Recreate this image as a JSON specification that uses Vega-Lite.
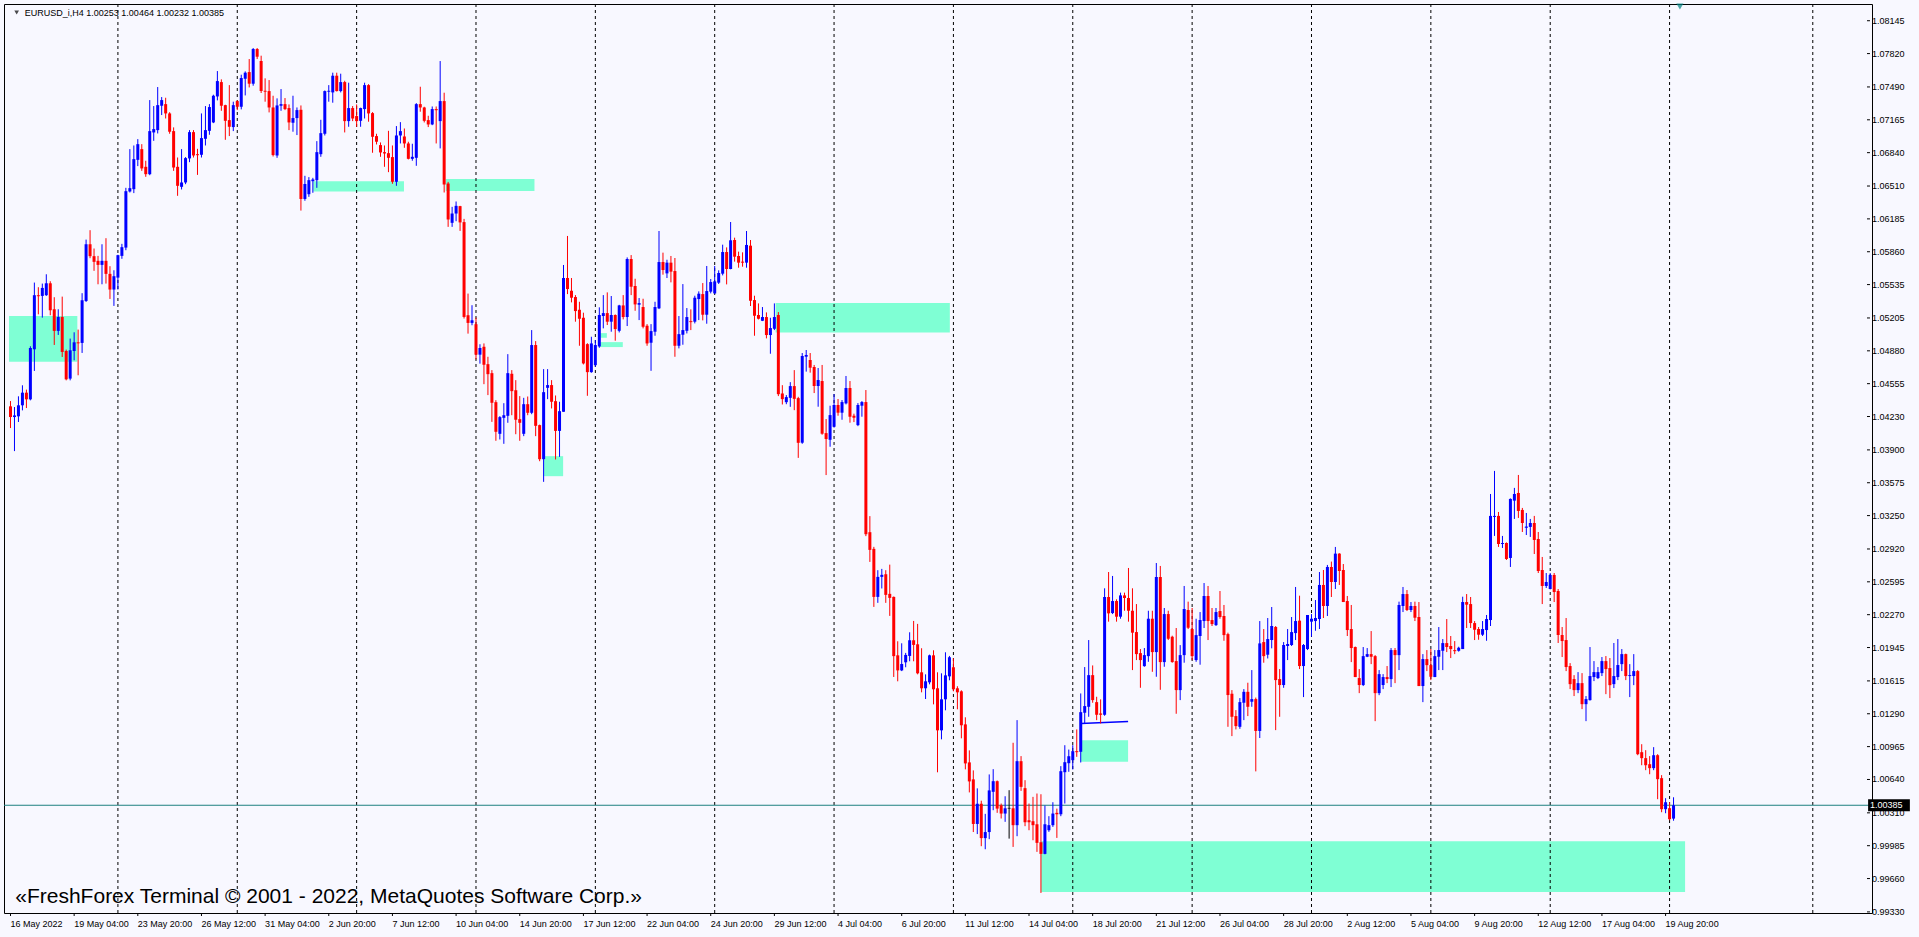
{
"$schema":"https://vega.github.io/schema/vega-lite/v6.json",
"width":1868,"height":909,
"autosize":{"type":"none"},
"padding":{"left":4,"top":4,"right":47,"bottom":24},
"background":"#F8F8FF",
"config":{"view":{"stroke":"#000000","strokeWidth":1,"fill":"#F8F8FF"},"font":"Liberation Sans"},
"datasets":{
"zones":[{"i":-0.375,"i2":16.8,"top":1.05224,"bot":1.04772},{"i":76.1,"i2":98.9,"top":1.06558,"bot":1.06455},{"i":109.4,"i2":131.7,"top":1.0658,"bot":1.06461},{"i":134.0,"i2":138.9,"top":1.03838,"bot":1.0364},{"i":148.2,"i2":149.9,"top":1.05055,"bot":1.05009},{"i":148.2,"i2":153.9,"top":1.04966,"bot":1.04917},{"i":192.3,"i2":236.1,"top":1.05353,"bot":1.0506},{"i":269.05,"i2":280.9,"top":1.01029,"bot":1.00815},{"i":259.05,"i2":420.9,"top":1.0003,"bot":0.99528}],
"seps":[{"i":27},{"i":57},{"i":87},{"i":117},{"i":147},{"i":177},{"i":207},{"i":237},{"i":267},{"i":297},{"i":327},{"i":357},{"i":387},{"i":417},{"i":453}],
"xlabels":[{"i":0,"t":"16 May 2022"},{"i":16,"t":"19 May 04:00"},{"i":32,"t":"23 May 20:00"},{"i":48,"t":"26 May 12:00"},{"i":64,"t":"31 May 04:00"},{"i":80,"t":"2 Jun 20:00"},{"i":96,"t":"7 Jun 12:00"},{"i":112,"t":"10 Jun 04:00"},{"i":128,"t":"14 Jun 20:00"},{"i":144,"t":"17 Jun 12:00"},{"i":160,"t":"22 Jun 04:00"},{"i":176,"t":"24 Jun 20:00"},{"i":192,"t":"29 Jun 12:00"},{"i":208,"t":"4 Jul 04:00"},{"i":224,"t":"6 Jul 20:00"},{"i":240,"t":"11 Jul 12:00"},{"i":256,"t":"14 Jul 04:00"},{"i":272,"t":"18 Jul 20:00"},{"i":288,"t":"21 Jul 12:00"},{"i":304,"t":"26 Jul 04:00"},{"i":320,"t":"28 Jul 20:00"},{"i":336,"t":"2 Aug 12:00"},{"i":352,"t":"5 Aug 04:00"},{"i":368,"t":"9 Aug 20:00"},{"i":384,"t":"12 Aug 12:00"},{"i":400,"t":"17 Aug 04:00"},{"i":416,"t":"19 Aug 20:00"}],
"ylabels":[{"p":1.08145,"t":"1.08145"},{"p":1.0782,"t":"1.07820"},{"p":1.0749,"t":"1.07490"},{"p":1.07165,"t":"1.07165"},{"p":1.0684,"t":"1.06840"},{"p":1.0651,"t":"1.06510"},{"p":1.06185,"t":"1.06185"},{"p":1.0586,"t":"1.05860"},{"p":1.05535,"t":"1.05535"},{"p":1.05205,"t":"1.05205"},{"p":1.0488,"t":"1.04880"},{"p":1.04555,"t":"1.04555"},{"p":1.0423,"t":"1.04230"},{"p":1.039,"t":"1.03900"},{"p":1.03575,"t":"1.03575"},{"p":1.0325,"t":"1.03250"},{"p":1.0292,"t":"1.02920"},{"p":1.02595,"t":"1.02595"},{"p":1.0227,"t":"1.02270"},{"p":1.01945,"t":"1.01945"},{"p":1.01615,"t":"1.01615"},{"p":1.0129,"t":"1.01290"},{"p":1.00965,"t":"1.00965"},{"p":1.0064,"t":"1.00640"},{"p":1.0031,"t":"1.00310"},{"p":0.99985,"t":"0.99985"},{"p":0.9966,"t":"0.99660"},{"p":0.9933,"t":"0.99330"}],
"trend":[{"i":269.05,"i2":280.9,"p":1.01194,"p2":1.01214}],
"price":[{"p":1.00385,"label":"1.00385"}],
"candles":[
{"i":0,"o":1.04331,"h":1.04383,"l":1.04116,"c":1.04225},
{"i":1,"o":1.04225,"h":1.04324,"l":1.03888,"c":1.04241},
{"i":2,"o":1.04232,"h":1.0443,"l":1.04176,"c":1.04341},
{"i":3,"o":1.04341,"h":1.04539,"l":1.04291,"c":1.04466},
{"i":4,"o":1.04466,"h":1.04496,"l":1.04314,"c":1.044},
{"i":5,"o":1.044,"h":1.04925,"l":1.0439,"c":1.04908},
{"i":6,"o":1.04895,"h":1.05555,"l":1.04681,"c":1.0543},
{"i":7,"o":1.0543,"h":1.05509,"l":1.05241,"c":1.0542},
{"i":8,"o":1.05423,"h":1.05545,"l":1.05208,"c":1.05502},
{"i":9,"o":1.0543,"h":1.05637,"l":1.05423,"c":1.05548},
{"i":10,"o":1.05548,"h":1.05568,"l":1.05232,"c":1.05281},
{"i":11,"o":1.05291,"h":1.0541,"l":1.04938,"c":1.05077},
{"i":12,"o":1.05077,"h":1.05291,"l":1.05037,"c":1.05215},
{"i":13,"o":1.05215,"h":1.05416,"l":1.04819,"c":1.04869},
{"i":14,"o":1.04878,"h":1.04892,"l":1.04588,"c":1.04598},
{"i":15,"o":1.04605,"h":1.05001,"l":1.04588,"c":1.04885},
{"i":16,"o":1.04878,"h":1.05063,"l":1.04786,"c":1.04964},
{"i":17,"o":1.04964,"h":1.0509,"l":1.04638,"c":1.04954},
{"i":18,"o":1.04958,"h":1.0545,"l":1.04859,"c":1.0538},
{"i":19,"o":1.05373,"h":1.0598,"l":1.05363,"c":1.05934},
{"i":20,"o":1.05934,"h":1.06073,"l":1.05796,"c":1.05816},
{"i":21,"o":1.05816,"h":1.05892,"l":1.05671,"c":1.0576},
{"i":22,"o":1.0577,"h":1.05819,"l":1.05538,"c":1.0573},
{"i":23,"o":1.0573,"h":1.05934,"l":1.05538,"c":1.0577},
{"i":24,"o":1.0577,"h":1.05994,"l":1.05545,"c":1.05641},
{"i":25,"o":1.05641,"h":1.05717,"l":1.05393,"c":1.05486},
{"i":26,"o":1.05486,"h":1.05677,"l":1.05324,"c":1.05618},
{"i":27,"o":1.05604,"h":1.0583,"l":1.05486,"c":1.05826},
{"i":28,"o":1.05819,"h":1.05938,"l":1.0579,"c":1.05905},
{"i":29,"o":1.05901,"h":1.06492,"l":1.05875,"c":1.06459},
{"i":30,"o":1.06456,"h":1.06875,"l":1.06446,"c":1.06489},
{"i":31,"o":1.06479,"h":1.06911,"l":1.0644,"c":1.06776},
{"i":32,"o":1.06769,"h":1.06974,"l":1.06707,"c":1.06924},
{"i":33,"o":1.06875,"h":1.06924,"l":1.0666,"c":1.06684},
{"i":34,"o":1.067,"h":1.0676,"l":1.06601,"c":1.06627},
{"i":35,"o":1.06627,"h":1.0736,"l":1.06617,"c":1.07053},
{"i":36,"o":1.0704,"h":1.07301,"l":1.06957,"c":1.07073},
{"i":37,"o":1.07063,"h":1.07489,"l":1.0703,"c":1.0731},
{"i":38,"o":1.07304,"h":1.0739,"l":1.07212,"c":1.0736},
{"i":39,"o":1.0732,"h":1.07383,"l":1.07178,"c":1.07228},
{"i":40,"o":1.07228,"h":1.0724,"l":1.07027,"c":1.07047},
{"i":41,"o":1.07053,"h":1.0709,"l":1.0666,"c":1.06693},
{"i":42,"o":1.067,"h":1.06792,"l":1.06413,"c":1.06512},
{"i":43,"o":1.06502,"h":1.06875,"l":1.06476,"c":1.06545},
{"i":44,"o":1.06545,"h":1.06796,"l":1.06528,"c":1.06786},
{"i":45,"o":1.06783,"h":1.07063,"l":1.06746,"c":1.07043},
{"i":46,"o":1.07043,"h":1.07063,"l":1.06792,"c":1.06812},
{"i":47,"o":1.06825,"h":1.06878,"l":1.0662,"c":1.06819},
{"i":48,"o":1.06819,"h":1.07228,"l":1.06792,"c":1.06984},
{"i":49,"o":1.06977,"h":1.07301,"l":1.06911,"c":1.07063},
{"i":50,"o":1.07056,"h":1.0732,"l":1.07017,"c":1.07291},
{"i":51,"o":1.07139,"h":1.07413,"l":1.07132,"c":1.07403},
{"i":52,"o":1.07396,"h":1.07647,"l":1.07357,"c":1.07548},
{"i":53,"o":1.07538,"h":1.07565,"l":1.07254,"c":1.07304},
{"i":54,"o":1.0731,"h":1.07314,"l":1.06967,"c":1.07155},
{"i":55,"o":1.07162,"h":1.07508,"l":1.07004,"c":1.07096},
{"i":56,"o":1.07093,"h":1.07344,"l":1.07053,"c":1.0731},
{"i":57,"o":1.0735,"h":1.07357,"l":1.07261,"c":1.07294},
{"i":58,"o":1.07294,"h":1.07611,"l":1.07268,"c":1.07578},
{"i":59,"o":1.07571,"h":1.07644,"l":1.07406,"c":1.07631},
{"i":60,"o":1.07637,"h":1.07766,"l":1.07485,"c":1.07522},
{"i":61,"o":1.07522,"h":1.07875,"l":1.07502,"c":1.07865},
{"i":62,"o":1.07865,"h":1.07875,"l":1.07766,"c":1.07789},
{"i":63,"o":1.07746,"h":1.07799,"l":1.0743,"c":1.07449},
{"i":64,"o":1.07452,"h":1.07575,"l":1.07344,"c":1.07443},
{"i":65,"o":1.07449,"h":1.07558,"l":1.07238,"c":1.07287},
{"i":66,"o":1.07287,"h":1.07403,"l":1.06802,"c":1.06816},
{"i":67,"o":1.06812,"h":1.07377,"l":1.06789,"c":1.07307},
{"i":68,"o":1.07304,"h":1.07469,"l":1.07254,"c":1.0732},
{"i":69,"o":1.0732,"h":1.0738,"l":1.07261,"c":1.07271},
{"i":70,"o":1.07281,"h":1.07317,"l":1.07063,"c":1.07139},
{"i":71,"o":1.07136,"h":1.07403,"l":1.07047,"c":1.07182},
{"i":72,"o":1.07182,"h":1.07287,"l":1.07014,"c":1.07261},
{"i":73,"o":1.07264,"h":1.07307,"l":1.06267,"c":1.06382},
{"i":74,"o":1.06382,"h":1.06611,"l":1.06364,"c":1.0653},
{"i":75,"o":1.06429,"h":1.06598,"l":1.06403,"c":1.06568},
{"i":76,"o":1.06558,"h":1.06591,"l":1.06443,"c":1.06575},
{"i":77,"o":1.06568,"h":1.06954,"l":1.06492,"c":1.06845},
{"i":78,"o":1.06825,"h":1.07165,"l":1.06799,"c":1.07033},
{"i":79,"o":1.07027,"h":1.07455,"l":1.0701,"c":1.07449},
{"i":80,"o":1.07443,"h":1.07508,"l":1.07344,"c":1.07452},
{"i":81,"o":1.07436,"h":1.07631,"l":1.07334,"c":1.07601},
{"i":82,"o":1.07601,"h":1.07631,"l":1.07445,"c":1.07449},
{"i":83,"o":1.07449,"h":1.07621,"l":1.07436,"c":1.07538},
{"i":84,"o":1.07538,"h":1.07551,"l":1.0704,"c":1.07152},
{"i":85,"o":1.07152,"h":1.07532,"l":1.07096,"c":1.07281},
{"i":86,"o":1.07281,"h":1.07301,"l":1.07152,"c":1.07178},
{"i":87,"o":1.07202,"h":1.07317,"l":1.07096,"c":1.07152},
{"i":88,"o":1.07155,"h":1.07285,"l":1.07096,"c":1.07281},
{"i":89,"o":1.07271,"h":1.07532,"l":1.07178,"c":1.07508},
{"i":90,"o":1.07508,"h":1.07518,"l":1.07146,"c":1.07228},
{"i":91,"o":1.07231,"h":1.07241,"l":1.06839,"c":1.06997},
{"i":92,"o":1.07004,"h":1.07027,"l":1.06921,"c":1.06948},
{"i":93,"o":1.06915,"h":1.06941,"l":1.06799,"c":1.06842},
{"i":94,"o":1.06845,"h":1.06911,"l":1.067,"c":1.06832},
{"i":95,"o":1.06835,"h":1.07056,"l":1.06647,"c":1.06789},
{"i":96,"o":1.06796,"h":1.06911,"l":1.06532,"c":1.06552},
{"i":97,"o":1.06552,"h":1.07103,"l":1.06512,"c":1.0701},
{"i":98,"o":1.0701,"h":1.07142,"l":1.06931,"c":1.07053},
{"i":99,"o":1.07,"h":1.07079,"l":1.06888,"c":1.06931},
{"i":100,"o":1.06931,"h":1.06948,"l":1.06773,"c":1.06779},
{"i":101,"o":1.06779,"h":1.06928,"l":1.0676,"c":1.06799},
{"i":102,"o":1.06789,"h":1.0733,"l":1.0671,"c":1.0732},
{"i":103,"o":1.0732,"h":1.07492,"l":1.07245,"c":1.07287},
{"i":104,"o":1.07287,"h":1.07294,"l":1.07139,"c":1.07155},
{"i":105,"o":1.07162,"h":1.07205,"l":1.07093,"c":1.07119},
{"i":106,"o":1.07119,"h":1.07297,"l":1.07112,"c":1.07271},
{"i":107,"o":1.07271,"h":1.07297,"l":1.06931,"c":1.07264},
{"i":108,"o":1.07152,"h":1.07746,"l":1.06882,"c":1.0735},
{"i":109,"o":1.0735,"h":1.07433,"l":1.06446,"c":1.06525},
{"i":110,"o":1.06535,"h":1.06551,"l":1.06106,"c":1.06179},
{"i":111,"o":1.06146,"h":1.06304,"l":1.06106,"c":1.06238},
{"i":112,"o":1.06238,"h":1.06357,"l":1.06162,"c":1.06314},
{"i":113,"o":1.06311,"h":1.06314,"l":1.06066,"c":1.0615},
{"i":114,"o":1.06153,"h":1.06185,"l":1.05199,"c":1.05215},
{"i":115,"o":1.05232,"h":1.05446,"l":1.0505,"c":1.05156},
{"i":116,"o":1.05156,"h":1.05331,"l":1.05133,"c":1.05182},
{"i":117,"o":1.05143,"h":1.05208,"l":1.04796,"c":1.04842},
{"i":118,"o":1.04842,"h":1.04945,"l":1.04753,"c":1.04908},
{"i":119,"o":1.0492,"h":1.04953,"l":1.0455,"c":1.04742},
{"i":120,"o":1.04748,"h":1.04821,"l":1.04442,"c":1.04649},
{"i":121,"o":1.04659,"h":1.04689,"l":1.04177,"c":1.04366},
{"i":122,"o":1.04372,"h":1.04392,"l":1.0399,"c":1.04079},
{"i":123,"o":1.04059,"h":1.04234,"l":1.04003,"c":1.04224},
{"i":124,"o":1.04217,"h":1.04362,"l":1.0396,"c":1.04243},
{"i":125,"o":1.04237,"h":1.04847,"l":1.04168,"c":1.04659},
{"i":126,"o":1.04653,"h":1.04689,"l":1.04243,"c":1.04481},
{"i":127,"o":1.04491,"h":1.0459,"l":1.04055,"c":1.04197},
{"i":128,"o":1.04204,"h":1.04432,"l":1.0399,"c":1.04168},
{"i":129,"o":1.04059,"h":1.04415,"l":1.04036,"c":1.04352},
{"i":130,"o":1.04352,"h":1.04428,"l":1.04243,"c":1.04267},
{"i":131,"o":1.04267,"h":1.05085,"l":1.04253,"c":1.04937},
{"i":132,"o":1.04937,"h":1.04976,"l":1.04036,"c":1.04138},
{"i":133,"o":1.04145,"h":1.0415,"l":1.03788,"c":1.03808},
{"i":134,"o":1.03808,"h":1.04699,"l":1.03584,"c":1.04471},
{"i":135,"o":1.04514,"h":1.04699,"l":1.04402,"c":1.04541},
{"i":136,"o":1.04541,"h":1.0459,"l":1.0431,"c":1.04376},
{"i":137,"o":1.04382,"h":1.04438,"l":1.03805,"c":1.04088},
{"i":138,"o":1.04088,"h":1.04376,"l":1.03831,"c":1.04283},
{"i":139,"o":1.04277,"h":1.05729,"l":1.04277,"c":1.056},
{"i":140,"o":1.056,"h":1.06016,"l":1.05441,"c":1.05491},
{"i":141,"o":1.05474,"h":1.056,"l":1.05359,"c":1.05405},
{"i":142,"o":1.05412,"h":1.05431,"l":1.05168,"c":1.05273},
{"i":143,"o":1.05286,"h":1.05365,"l":1.0493,"c":1.05197},
{"i":144,"o":1.05207,"h":1.05257,"l":1.04745,"c":1.04755},
{"i":145,"o":1.04946,"h":1.04955,"l":1.04435,"c":1.04669},
{"i":146,"o":1.04669,"h":1.05019,"l":1.04663,"c":1.04953},
{"i":147,"o":1.04738,"h":1.04986,"l":1.04722,"c":1.04937},
{"i":148,"o":1.04923,"h":1.0531,"l":1.0491,"c":1.05234},
{"i":149,"o":1.05224,"h":1.05431,"l":1.05102,"c":1.05253},
{"i":150,"o":1.05253,"h":1.05458,"l":1.05135,"c":1.05168},
{"i":151,"o":1.05168,"h":1.05422,"l":1.05069,"c":1.05234},
{"i":152,"o":1.05234,"h":1.0524,"l":1.0498,"c":1.05095},
{"i":153,"o":1.05078,"h":1.05335,"l":1.05062,"c":1.05329},
{"i":154,"o":1.05329,"h":1.05431,"l":1.05191,"c":1.05214},
{"i":155,"o":1.05214,"h":1.05804,"l":1.05125,"c":1.05788},
{"i":156,"o":1.05788,"h":1.05827,"l":1.05431,"c":1.05514},
{"i":157,"o":1.05521,"h":1.05593,"l":1.05276,"c":1.05339},
{"i":158,"o":1.05336,"h":1.05402,"l":1.05184,"c":1.05352},
{"i":159,"o":1.05313,"h":1.05395,"l":1.05102,"c":1.05118},
{"i":160,"o":1.05128,"h":1.05144,"l":1.0493,"c":1.04953},
{"i":161,"o":1.0496,"h":1.05144,"l":1.04682,"c":1.05075},
{"i":162,"o":1.05069,"h":1.05365,"l":1.05029,"c":1.05313},
{"i":163,"o":1.053,"h":1.06065,"l":1.05293,"c":1.05758},
{"i":164,"o":1.05758,"h":1.05851,"l":1.05633,"c":1.05679},
{"i":165,"o":1.05646,"h":1.05781,"l":1.056,"c":1.05752},
{"i":166,"o":1.05752,"h":1.05818,"l":1.05557,"c":1.05663},
{"i":167,"o":1.05669,"h":1.05798,"l":1.04821,"c":1.0493},
{"i":168,"o":1.0493,"h":1.05224,"l":1.04904,"c":1.05045},
{"i":169,"o":1.05039,"h":1.0554,"l":1.0494,"c":1.05085},
{"i":170,"o":1.05078,"h":1.05303,"l":1.05052,"c":1.05214},
{"i":171,"o":1.05174,"h":1.0529,"l":1.05085,"c":1.05168},
{"i":172,"o":1.05168,"h":1.05425,"l":1.05151,"c":1.05405},
{"i":173,"o":1.05392,"h":1.05468,"l":1.05184,"c":1.05445},
{"i":174,"o":1.05441,"h":1.0555,"l":1.05181,"c":1.05237},
{"i":175,"o":1.05237,"h":1.05719,"l":1.05148,"c":1.05471},
{"i":176,"o":1.05465,"h":1.0559,"l":1.05448,"c":1.0556},
{"i":177,"o":1.05448,"h":1.05719,"l":1.05441,"c":1.05567},
{"i":178,"o":1.05554,"h":1.05676,"l":1.05541,"c":1.0565},
{"i":179,"o":1.05643,"h":1.0593,"l":1.05626,"c":1.05857},
{"i":180,"o":1.05857,"h":1.05903,"l":1.05537,"c":1.05689},
{"i":181,"o":1.05689,"h":1.06154,"l":1.05686,"c":1.05973},
{"i":182,"o":1.05976,"h":1.05999,"l":1.05762,"c":1.05811},
{"i":183,"o":1.05818,"h":1.05861,"l":1.05702,"c":1.05752},
{"i":184,"o":1.05762,"h":1.05854,"l":1.05712,"c":1.05752},
{"i":185,"o":1.05752,"h":1.06065,"l":1.05702,"c":1.05927},
{"i":186,"o":1.0592,"h":1.05976,"l":1.05323,"c":1.05375},
{"i":187,"o":1.05382,"h":1.05425,"l":1.05029,"c":1.05227},
{"i":188,"o":1.05234,"h":1.05349,"l":1.0519,"c":1.05197},
{"i":189,"o":1.05177,"h":1.05313,"l":1.05174,"c":1.05214},
{"i":190,"o":1.05214,"h":1.0526,"l":1.05003,"c":1.05036},
{"i":191,"o":1.05036,"h":1.05207,"l":1.04851,"c":1.05105},
{"i":192,"o":1.05098,"h":1.05349,"l":1.05085,"c":1.05214},
{"i":193,"o":1.05234,"h":1.05263,"l":1.04432,"c":1.04451},
{"i":194,"o":1.04458,"h":1.0454,"l":1.04349,"c":1.04402},
{"i":195,"o":1.04372,"h":1.04442,"l":1.04352,"c":1.04422},
{"i":196,"o":1.04415,"h":1.0457,"l":1.04326,"c":1.04531},
{"i":197,"o":1.04531,"h":1.04689,"l":1.04293,"c":1.04405},
{"i":198,"o":1.04412,"h":1.04425,"l":1.03821,"c":1.0397},
{"i":199,"o":1.03971,"h":1.04858,"l":1.0396,"c":1.04829},
{"i":200,"o":1.04822,"h":1.04888,"l":1.04674,"c":1.04839},
{"i":201,"o":1.04789,"h":1.04858,"l":1.04664,"c":1.04713},
{"i":202,"o":1.0472,"h":1.0474,"l":1.04462,"c":1.04532},
{"i":203,"o":1.04532,"h":1.0471,"l":1.04327,"c":1.04591},
{"i":204,"o":1.04581,"h":1.0474,"l":1.0405,"c":1.0406},
{"i":205,"o":1.04066,"h":1.04205,"l":1.03651,"c":1.04007},
{"i":206,"o":1.04,"h":1.04337,"l":1.03931,"c":1.04244},
{"i":207,"o":1.04129,"h":1.04452,"l":1.0412,"c":1.04344},
{"i":208,"o":1.04344,"h":1.04403,"l":1.04238,"c":1.04268},
{"i":209,"o":1.04268,"h":1.04393,"l":1.04198,"c":1.04373},
{"i":210,"o":1.0436,"h":1.04631,"l":1.0435,"c":1.04512},
{"i":211,"o":1.04512,"h":1.04581,"l":1.04169,"c":1.04228},
{"i":212,"o":1.04238,"h":1.04258,"l":1.04175,"c":1.04218},
{"i":213,"o":1.04145,"h":1.04363,"l":1.04135,"c":1.04344},
{"i":214,"o":1.04337,"h":1.04383,"l":1.04228,"c":1.04373},
{"i":215,"o":1.04373,"h":1.04492,"l":1.03047,"c":1.03066},
{"i":216,"o":1.03086,"h":1.03245,"l":1.02792,"c":1.02911},
{"i":217,"o":1.02921,"h":1.02941,"l":1.02347,"c":1.02446},
{"i":218,"o":1.02446,"h":1.0271,"l":1.02387,"c":1.02644},
{"i":219,"o":1.02644,"h":1.02723,"l":1.02529,"c":1.02664},
{"i":220,"o":1.0267,"h":1.0271,"l":1.02387,"c":1.02466},
{"i":221,"o":1.02476,"h":1.02765,"l":1.02258,"c":1.02436},
{"i":222,"o":1.02446,"h":1.0245,"l":1.01654,"c":1.0186},
{"i":223,"o":1.01868,"h":1.02007,"l":1.01611,"c":1.01719},
{"i":224,"o":1.01719,"h":1.01987,"l":1.01712,"c":1.01782},
{"i":225,"o":1.01799,"h":1.01892,"l":1.0175,"c":1.01872},
{"i":226,"o":1.01862,"h":1.02096,"l":1.01809,"c":1.02017},
{"i":227,"o":1.02017,"h":1.02208,"l":1.01809,"c":1.01971},
{"i":228,"o":1.01977,"h":1.02179,"l":1.0168,"c":1.0169},
{"i":229,"o":1.017,"h":1.01938,"l":1.01502,"c":1.01542},
{"i":230,"o":1.01542,"h":1.0168,"l":1.01436,"c":1.01611},
{"i":231,"o":1.01601,"h":1.01875,"l":1.01581,"c":1.01868},
{"i":232,"o":1.01868,"h":1.01918,"l":1.01383,"c":1.01532},
{"i":233,"o":1.01542,"h":1.017,"l":1.00711,"c":1.01126},
{"i":234,"o":1.01126,"h":1.0169,"l":1.01037,"c":1.01433},
{"i":235,"o":1.01433,"h":1.01898,"l":1.01324,"c":1.0167},
{"i":236,"o":1.0166,"h":1.01862,"l":1.01621,"c":1.01849},
{"i":237,"o":1.0175,"h":1.01839,"l":1.01512,"c":1.01532},
{"i":238,"o":1.01542,"h":1.01562,"l":1.01334,"c":1.01502},
{"i":239,"o":1.01512,"h":1.01522,"l":1.01047,"c":1.01176},
{"i":240,"o":1.01185,"h":1.01255,"l":1.0074,"c":1.00799},
{"i":241,"o":1.00809,"h":1.00928,"l":1.00512,"c":1.00621},
{"i":242,"o":1.00641,"h":1.0073,"l":1.0012,"c":1.002},
{"i":243,"o":1.002,"h":1.00552,"l":1.001,"c":1.004},
{"i":244,"o":1.004,"h":1.0043,"l":0.9998,"c":1.0006},
{"i":245,"o":1.0006,"h":1.003,"l":0.9995,"c":1.0012},
{"i":246,"o":1.0012,"h":1.0069,"l":1.0005,"c":1.00532},
{"i":247,"o":1.00518,"h":1.00742,"l":1.00336,"c":1.00623},
{"i":248,"o":1.00623,"h":1.0063,"l":1.0031,"c":1.00352},
{"i":249,"o":1.00385,"h":1.00402,"l":1.00254,"c":1.00303},
{"i":250,"o":1.00303,"h":1.00474,"l":1.00221,"c":1.00355},
{"i":251,"o":1.00355,"h":1.00534,"l":1.00055,"c":1.00355},
{"i":252,"o":1.00355,"h":1.01003,"l":0.99973,"c":1.00188},
{"i":253,"o":1.00188,"h":1.01227,"l":1.00079,"c":1.00821},
{"i":254,"o":1.00821,"h":1.00871,"l":1.00527,"c":1.00567},
{"i":255,"o":1.00554,"h":1.00633,"l":1.00178,"c":1.00217},
{"i":256,"o":1.00237,"h":1.00402,"l":1.00138,"c":1.00217},
{"i":257,"o":1.00227,"h":1.00468,"l":1.00039,"c":1.00188},
{"i":258,"o":1.00197,"h":1.00501,"l":0.99924,"c":1.00013},
{"i":259,"o":1.00019,"h":1.00494,"l":0.99518,"c":0.99904},
{"i":260,"o":0.99904,"h":1.00382,"l":0.999,"c":1.00197},
{"i":261,"o":1.00138,"h":1.00277,"l":1.00122,"c":1.00188},
{"i":262,"o":1.00188,"h":1.00415,"l":1.00171,"c":1.00303},
{"i":263,"o":1.0031,"h":1.00352,"l":1.00062,"c":1.00296},
{"i":264,"o":1.00296,"h":1.00772,"l":1.00277,"c":1.00722},
{"i":265,"o":1.00712,"h":1.00979,"l":1.00402,"c":1.00811},
{"i":266,"o":1.00801,"h":1.00936,"l":1.00716,"c":1.0087},
{"i":267,"o":1.00831,"h":1.00979,"l":1.00739,"c":1.0092},
{"i":268,"o":1.0092,"h":1.01135,"l":1.00864,"c":1.00914},
{"i":269,"o":1.00914,"h":1.01491,"l":1.00808,"c":1.01306},
{"i":270,"o":1.013,"h":1.01752,"l":1.01194,"c":1.01366},
{"i":271,"o":1.01359,"h":1.02019,"l":1.0126,"c":1.01672},
{"i":272,"o":1.01672,"h":1.01768,"l":1.01399,"c":1.01425},
{"i":273,"o":1.01405,"h":1.01458,"l":1.01227,"c":1.0128},
{"i":274,"o":1.01293,"h":1.01432,"l":1.01194,"c":1.0128},
{"i":275,"o":1.0128,"h":1.02531,"l":1.0127,"c":1.02445},
{"i":276,"o":1.02445,"h":1.02692,"l":1.02201,"c":1.02283},
{"i":277,"o":1.02286,"h":1.02653,"l":1.02276,"c":1.02405},
{"i":278,"o":1.02405,"h":1.02422,"l":1.02201,"c":1.0225},
{"i":279,"o":1.0225,"h":1.02488,"l":1.0223,"c":1.02461},
{"i":280,"o":1.02461,"h":1.02488,"l":1.02309,"c":1.02435},
{"i":281,"o":1.02435,"h":1.02732,"l":1.02201,"c":1.02309},
{"i":282,"o":1.02309,"h":1.02531,"l":1.01722,"c":1.02092},
{"i":283,"o":1.02098,"h":1.02375,"l":1.01821,"c":1.0188},
{"i":284,"o":1.0189,"h":1.0193,"l":1.01547,"c":1.01821},
{"i":285,"o":1.01761,"h":1.0194,"l":1.01755,"c":1.0187},
{"i":286,"o":1.0186,"h":1.02309,"l":1.01804,"c":1.0223},
{"i":287,"o":1.0223,"h":1.02309,"l":1.01705,"c":1.019},
{"i":288,"o":1.019,"h":1.02781,"l":1.01656,"c":1.02643},
{"i":289,"o":1.02643,"h":1.02752,"l":1.01527,"c":1.01801},
{"i":290,"o":1.01801,"h":1.02336,"l":1.01755,"c":1.02276},
{"i":291,"o":1.02276,"h":1.02309,"l":1.02019,"c":1.02032},
{"i":292,"o":1.02052,"h":1.02062,"l":1.01795,"c":1.01801},
{"i":293,"o":1.01811,"h":1.02138,"l":1.0129,"c":1.01524},
{"i":294,"o":1.01524,"h":1.01969,"l":1.01425,"c":1.0187},
{"i":295,"o":1.0187,"h":1.02554,"l":1.01795,"c":1.02326},
{"i":296,"o":1.02316,"h":1.02399,"l":1.02128,"c":1.02141},
{"i":297,"o":1.02128,"h":1.02336,"l":1.01821,"c":1.0186},
{"i":298,"o":1.01821,"h":1.0223,"l":1.01804,"c":1.02068},
{"i":299,"o":1.02059,"h":1.02296,"l":1.01775,"c":1.02217},
{"i":300,"o":1.02207,"h":1.02583,"l":1.02138,"c":1.02455},
{"i":301,"o":1.02455,"h":1.02554,"l":1.02019,"c":1.02207},
{"i":302,"o":1.02217,"h":1.02336,"l":1.02158,"c":1.02177},
{"i":303,"o":1.02167,"h":1.02336,"l":1.02158,"c":1.02296},
{"i":304,"o":1.02306,"h":1.02504,"l":1.0223,"c":1.02247},
{"i":305,"o":1.02257,"h":1.02366,"l":1.02012,"c":1.02068},
{"i":306,"o":1.02078,"h":1.02092,"l":1.01161,"c":1.01475},
{"i":307,"o":1.01488,"h":1.01524,"l":1.01069,"c":1.0126},
{"i":308,"o":1.01267,"h":1.01326,"l":1.01135,"c":1.01168},
{"i":309,"o":1.01161,"h":1.01445,"l":1.01141,"c":1.01405},
{"i":310,"o":1.01399,"h":1.01534,"l":1.01227,"c":1.01507},
{"i":311,"o":1.01507,"h":1.01597,"l":1.01267,"c":1.01359},
{"i":312,"o":1.01409,"h":1.01722,"l":1.01359,"c":1.01435},
{"i":313,"o":1.01435,"h":1.0145,"l":1.0072,"c":1.0112},
{"i":314,"o":1.0112,"h":1.02207,"l":1.0105,"c":1.01986},
{"i":315,"o":1.01999,"h":1.02128,"l":1.01795,"c":1.0186},
{"i":316,"o":1.01874,"h":1.02237,"l":1.01837,"c":1.02029},
{"i":317,"o":1.02019,"h":1.02346,"l":1.01937,"c":1.02158},
{"i":318,"o":1.02148,"h":1.02158,"l":1.01128,"c":1.01623},
{"i":319,"o":1.01633,"h":1.01732,"l":1.0126,"c":1.01574},
{"i":320,"o":1.01574,"h":1.01999,"l":1.01547,"c":1.0197},
{"i":321,"o":1.0196,"h":1.02128,"l":1.01821,"c":1.0198},
{"i":322,"o":1.0197,"h":1.02247,"l":1.0196,"c":1.02098},
{"i":323,"o":1.02088,"h":1.02544,"l":1.02019,"c":1.02207},
{"i":324,"o":1.02211,"h":1.02458,"l":1.01732,"c":1.01762},
{"i":325,"o":1.01762,"h":1.0198,"l":1.01455,"c":1.0197},
{"i":326,"o":1.0193,"h":1.02267,"l":1.0192,"c":1.02267},
{"i":327,"o":1.02201,"h":1.02276,"l":1.02052,"c":1.0223},
{"i":328,"o":1.02207,"h":1.02415,"l":1.02111,"c":1.02237},
{"i":329,"o":1.02227,"h":1.02692,"l":1.02128,"c":1.02564},
{"i":330,"o":1.02564,"h":1.02712,"l":1.02237,"c":1.02356},
{"i":331,"o":1.02356,"h":1.02762,"l":1.02257,"c":1.02742},
{"i":332,"o":1.02742,"h":1.02795,"l":1.02445,"c":1.02593},
{"i":333,"o":1.02593,"h":1.0294,"l":1.02524,"c":1.02874},
{"i":334,"o":1.02874,"h":1.02878,"l":1.02564,"c":1.02702},
{"i":335,"o":1.02712,"h":1.02771,"l":1.02395,"c":1.02395},
{"i":336,"o":1.02405,"h":1.02455,"l":1.02059,"c":1.02118},
{"i":337,"o":1.02128,"h":1.02366,"l":1.01801,"c":1.0194},
{"i":338,"o":1.0195,"h":1.01955,"l":1.01653,"c":1.01653},
{"i":339,"o":1.01643,"h":1.01732,"l":1.01494,"c":1.01574},
{"i":340,"o":1.01574,"h":1.0195,"l":1.01564,"c":1.0186},
{"i":341,"o":1.01854,"h":1.0194,"l":1.0185,"c":1.0188},
{"i":342,"o":1.0188,"h":1.02108,"l":1.01781,"c":1.01854},
{"i":343,"o":1.0186,"h":1.0187,"l":1.01217,"c":1.01494},
{"i":344,"o":1.01494,"h":1.01722,"l":1.01474,"c":1.01682},
{"i":345,"o":1.01574,"h":1.01682,"l":1.01534,"c":1.01653},
{"i":346,"o":1.01653,"h":1.01762,"l":1.01593,"c":1.01633},
{"i":347,"o":1.01633,"h":1.0194,"l":1.01554,"c":1.0192},
{"i":348,"o":1.0192,"h":1.0194,"l":1.01593,"c":1.0187},
{"i":349,"o":1.0187,"h":1.02399,"l":1.01722,"c":1.02366},
{"i":350,"o":1.02356,"h":1.02544,"l":1.02296,"c":1.02474},
{"i":351,"o":1.02474,"h":1.02514,"l":1.02306,"c":1.02316},
{"i":352,"o":1.02316,"h":1.02395,"l":1.02296,"c":1.02356},
{"i":353,"o":1.02356,"h":1.02399,"l":1.02207,"c":1.0224},
{"i":354,"o":1.02247,"h":1.02395,"l":1.01564,"c":1.01564},
{"i":355,"o":1.01564,"h":1.0188,"l":1.01405,"c":1.01831},
{"i":356,"o":1.01831,"h":1.0192,"l":1.01712,"c":1.01771},
{"i":357,"o":1.01771,"h":1.0193,"l":1.01623,"c":1.01656},
{"i":358,"o":1.01653,"h":1.0192,"l":1.01653,"c":1.0186},
{"i":359,"o":1.01854,"h":1.02148,"l":1.01722,"c":1.0192},
{"i":360,"o":1.01913,"h":1.02029,"l":1.01722,"c":1.01989},
{"i":361,"o":1.01989,"h":1.02227,"l":1.019,"c":1.0195},
{"i":362,"o":1.0196,"h":1.02059,"l":1.01841,"c":1.0193},
{"i":363,"o":1.0192,"h":1.02009,"l":1.0188,"c":1.01913},
{"i":364,"o":1.01913,"h":1.01953,"l":1.01904,"c":1.01943},
{"i":365,"o":1.0193,"h":1.02448,"l":1.0193,"c":1.02395},
{"i":366,"o":1.02395,"h":1.02474,"l":1.02138,"c":1.02369},
{"i":367,"o":1.02375,"h":1.02445,"l":1.02138,"c":1.02187},
{"i":368,"o":1.02187,"h":1.02207,"l":1.02019,"c":1.02121},
{"i":369,"o":1.02128,"h":1.02148,"l":1.02022,"c":1.02072},
{"i":370,"o":1.02072,"h":1.02207,"l":1.02059,"c":1.02128},
{"i":371,"o":1.02118,"h":1.02267,"l":1.02012,"c":1.02227},
{"i":372,"o":1.02217,"h":1.03464,"l":1.02158,"c":1.03247},
{"i":373,"o":1.03237,"h":1.03692,"l":1.03049,"c":1.03247},
{"i":374,"o":1.03247,"h":1.03286,"l":1.0294,"c":1.02969},
{"i":375,"o":1.02969,"h":1.03049,"l":1.0293,"c":1.02979},
{"i":376,"o":1.02979,"h":1.02985,"l":1.02811,"c":1.02821},
{"i":377,"o":1.02831,"h":1.0342,"l":1.02742,"c":1.03415},
{"i":378,"o":1.03398,"h":1.03524,"l":1.03217,"c":1.03464},
{"i":379,"o":1.03474,"h":1.03652,"l":1.03227,"c":1.03296},
{"i":380,"o":1.03306,"h":1.03326,"l":1.03088,"c":1.03177},
{"i":381,"o":1.03131,"h":1.03276,"l":1.03058,"c":1.03138},
{"i":382,"o":1.03138,"h":1.03217,"l":1.03039,"c":1.03177},
{"i":383,"o":1.03177,"h":1.03247,"l":1.0287,"c":1.03009},
{"i":384,"o":1.03019,"h":1.03088,"l":1.02682,"c":1.02702},
{"i":385,"o":1.02712,"h":1.02841,"l":1.02375,"c":1.02554},
{"i":386,"o":1.02554,"h":1.02682,"l":1.02534,"c":1.02593},
{"i":387,"o":1.02524,"h":1.02682,"l":1.0252,"c":1.02663},
{"i":388,"o":1.02663,"h":1.02682,"l":1.02395,"c":1.02494},
{"i":389,"o":1.02504,"h":1.02524,"l":1.0199,"c":1.02069},
{"i":390,"o":1.02069,"h":1.02148,"l":1.01851,"c":1.02009},
{"i":391,"o":1.02019,"h":1.02237,"l":1.01712,"c":1.01752},
{"i":392,"o":1.01762,"h":1.01791,"l":1.01534,"c":1.01583},
{"i":393,"o":1.01633,"h":1.01672,"l":1.01465,"c":1.01524},
{"i":394,"o":1.01524,"h":1.01702,"l":1.01494,"c":1.01593},
{"i":395,"o":1.01593,"h":1.01692,"l":1.01336,"c":1.01385},
{"i":396,"o":1.01385,"h":1.01465,"l":1.01217,"c":1.01435},
{"i":397,"o":1.01425,"h":1.0195,"l":1.0142,"c":1.01663},
{"i":398,"o":1.01653,"h":1.01811,"l":1.01613,"c":1.01702},
{"i":399,"o":1.01643,"h":1.01752,"l":1.01633,"c":1.01702},
{"i":400,"o":1.01692,"h":1.01851,"l":1.01663,"c":1.01811},
{"i":401,"o":1.01811,"h":1.01861,"l":1.01484,"c":1.01732},
{"i":402,"o":1.01742,"h":1.01841,"l":1.01445,"c":1.01573},
{"i":403,"o":1.01583,"h":1.0199,"l":1.01544,"c":1.01663},
{"i":404,"o":1.01653,"h":1.02029,"l":1.01623,"c":1.01772},
{"i":405,"o":1.01781,"h":1.0193,"l":1.01712,"c":1.0188},
{"i":406,"o":1.0188,"h":1.01885,"l":1.01623,"c":1.01663},
{"i":407,"o":1.01663,"h":1.01781,"l":1.01455,"c":1.01672},
{"i":408,"o":1.01663,"h":1.0188,"l":1.01573,"c":1.01712},
{"i":409,"o":1.01712,"h":1.01722,"l":1.0088,"c":1.0089},
{"i":410,"o":1.0091,"h":1.00989,"l":1.00781,"c":1.00851},
{"i":411,"o":1.00851,"h":1.0093,"l":1.00732,"c":1.00781},
{"i":412,"o":1.00791,"h":1.00871,"l":1.00692,"c":1.00752},
{"i":413,"o":1.00752,"h":1.0096,"l":1.00732,"c":1.0088},
{"i":414,"o":1.0088,"h":1.0089,"l":1.00445,"c":1.00643},
{"i":415,"o":1.00653,"h":1.00683,"l":1.00316,"c":1.00346},
{"i":416,"o":1.00346,"h":1.00455,"l":1.00306,"c":1.00415},
{"i":417,"o":1.00356,"h":1.00415,"l":1.00237,"c":1.00247},
{"i":418,"o":1.00253,"h":1.00464,"l":1.00232,"c":1.00385}
]
},
"layer":[
{"data":{"name":"zones"},"mark":{"type":"rect","color":"#7FFFD4"},
 "encoding":{
  "x":{"field":"i","type":"quantitative","scale":{"domain":[-0.375,466.625],"nice":false,"zero":false},"axis":null},
  "x2":{"field":"i2"},
  "y":{"field":"top","type":"quantitative","scale":{"domain":[0.993193,1.083104],"nice":false,"zero":false},"axis":null},
  "y2":{"field":"bot"}}},
{"data":{"name":"seps"},"mark":{"type":"rule","color":"#000000","strokeWidth":1,"strokeDash":[3,3]},
 "encoding":{"x":{"field":"i","type":"quantitative","axis":null}}},
{"data":{"name":"price"},"mark":{"type":"rule","color":"#1E8080","strokeWidth":1},
 "encoding":{"y":{"field":"p","type":"quantitative","axis":null}}},
{"data":{"name":"trend"},"mark":{"type":"rule","color":"#0000FF","strokeWidth":1.5},
 "encoding":{"x":{"field":"i","type":"quantitative","axis":null},"x2":{"field":"i2"},"y":{"field":"p","type":"quantitative","axis":null},"y2":{"field":"p2"}}},
{"data":{"name":"candles"},"mark":{"type":"rule","strokeWidth":1},
 "encoding":{"x":{"field":"i","type":"quantitative","axis":null},"y":{"field":"l","type":"quantitative","axis":null},"y2":{"field":"h"},
  "color":{"condition":[{"test":"datum.c > datum.o","value":"#0000FF"},{"test":"datum.c < datum.o","value":"#FF0000"}],"value":"#000000"}}},
{"data":{"name":"candles"},"mark":{"type":"bar","size":3},
 "encoding":{"x":{"field":"i","type":"quantitative","axis":null},"y":{"field":"o","type":"quantitative","axis":null},"y2":{"field":"c"},
  "color":{"condition":[{"test":"datum.c > datum.o","value":"#0000FF"},{"test":"datum.c < datum.o","value":"#FF0000"}],"value":"#000000"}}},
{"data":{"name":"candles"},"transform":[{"filter":"abs(datum.o - datum.c) < 0.00008"}],"mark":{"type":"tick","orient":"horizontal","size":3,"thickness":1},
 "encoding":{"x":{"field":"i","type":"quantitative","axis":null},"y":{"field":"c","type":"quantitative","axis":null},
  "color":{"condition":[{"test":"datum.c > datum.o","value":"#0000FF"},{"test":"datum.c < datum.o","value":"#FF0000"}],"value":"#000000"}}},
{"data":{"name":"xlabels"},"mark":{"type":"rule","color":"#000000","strokeWidth":1},
 "encoding":{"x":{"field":"i","type":"quantitative","axis":null},"y":{"datum":0.993193,"type":"quantitative","axis":null},"y2":{"datum":0.992896}}},
{"data":{"name":"xlabels"},"mark":{"type":"text","color":"#000000","align":"left","baseline":"middle","font":"Liberation Sans","fontSize":9},
 "encoding":{"x":{"field":"i","type":"quantitative","axis":null},"y":{"datum":0.992105,"type":"quantitative","axis":null},"text":{"field":"t"}}},
{"data":{"name":"ylabels"},"mark":{"type":"rule","color":"#000000","strokeWidth":1},
 "encoding":{"y":{"field":"p","type":"quantitative","axis":null},"x":{"datum":466.625,"type":"quantitative","axis":null},"x2":{"datum":467.375}}},
{"data":{"name":"ylabels"},"mark":{"type":"text","color":"#000000","align":"left","baseline":"middle","font":"Liberation Sans","fontSize":9},
 "encoding":{"y":{"field":"p","type":"quantitative","axis":null},"x":{"datum":467.875,"type":"quantitative","axis":null},"text":{"field":"t"}}},
{"data":{"name":"price"},"mark":{"type":"rect","color":"#000000"},
 "encoding":{"x":{"datum":466.9,"type":"quantitative","axis":null},"x2":{"datum":477.4},"y":{"datum":1.00445,"type":"quantitative","axis":null},"y2":{"datum":1.00325}}},
{"data":{"name":"price"},"mark":{"type":"text","color":"#FFFFFF","align":"left","baseline":"middle","font":"Liberation Sans","fontSize":9},
 "encoding":{"x":{"datum":467.4,"type":"quantitative","axis":null},"y":{"field":"p","type":"quantitative","axis":null},"text":{"field":"label"}}},
{"data":{"values":[{"t":"EURUSD_i,H4  1.00253 1.00464 1.00232 1.00385"}]},"mark":{"type":"text","color":"#000000","align":"left","baseline":"middle","font":"Liberation Sans","fontSize":9},
 "encoding":{"x":{"datum":3.6,"type":"quantitative","axis":null},"y":{"datum":1.08224,"type":"quantitative","axis":null},"text":{"field":"t"}}},
{"data":{"values":[{"t":"menu"}]},"mark":{"type":"point","shape":"triangle-down","filled":true,"color":"#000000","size":22},
 "encoding":{"x":{"datum":1.55,"type":"quantitative","axis":null},"y":{"datum":1.08226,"type":"quantitative","axis":null}}},
{"data":{"values":[{"t":"shift"}]},"mark":{"type":"point","shape":"triangle-down","filled":true,"color":"#008080","size":50},
 "encoding":{"x":{"datum":419.6,"type":"quantitative","axis":null},"y":{"datum":1.08286,"type":"quantitative","axis":null}}},
{"data":{"values":[{"t":"«FreshForex Terminal © 2001 - 2022, MetaQuotes Software Corp.»"}]},"mark":{"type":"text","color":"#000000","align":"left","baseline":"middle","font":"Liberation Sans","fontSize":21},
 "encoding":{"x":{"datum":1.2,"type":"quantitative","axis":null},"y":{"datum":0.99478,"type":"quantitative","axis":null},"text":{"field":"t"}}}
]
}
